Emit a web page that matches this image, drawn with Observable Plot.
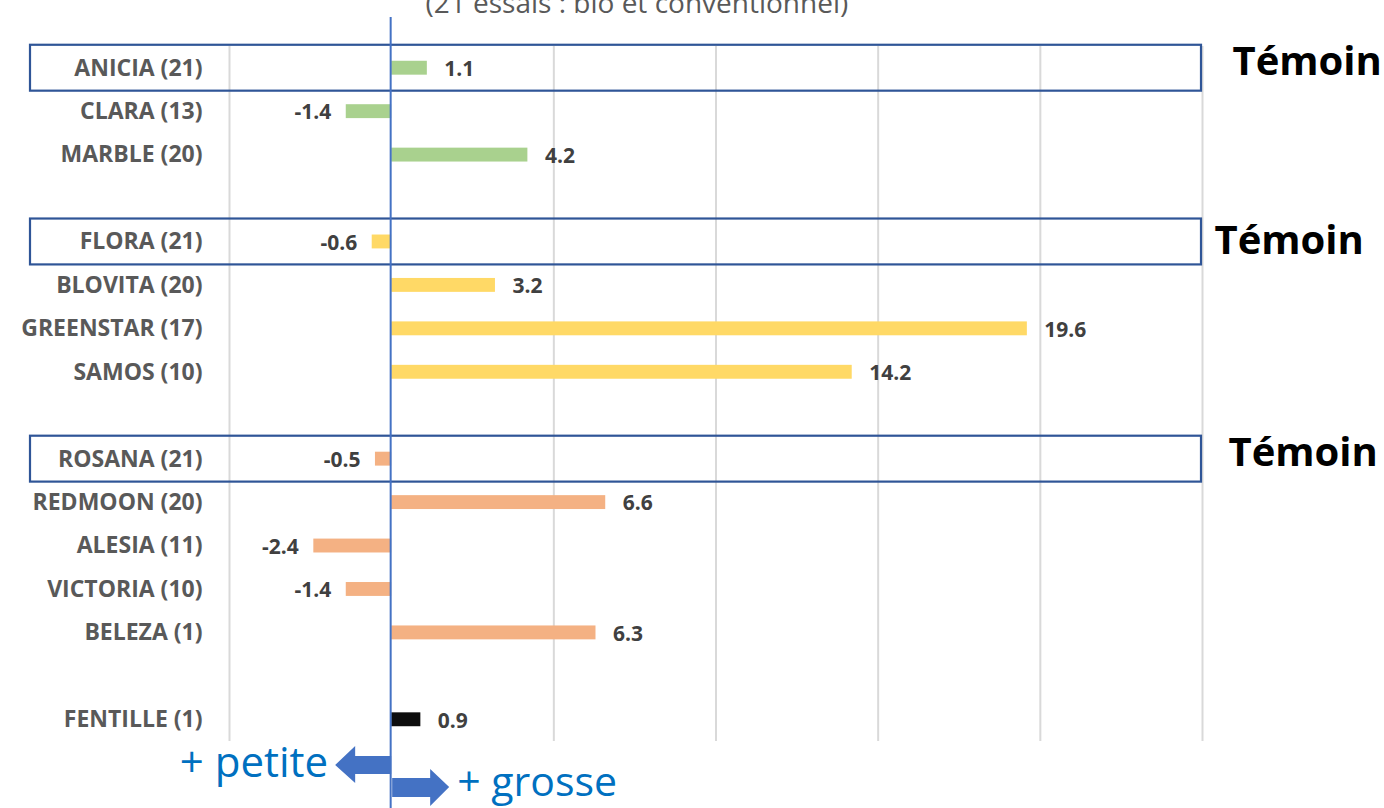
<!DOCTYPE html>
<html>
<head>
<meta charset="utf-8">
<script src="https://cdn.jsdelivr.net/npm/d3@7"></script>
<script src="https://cdn.jsdelivr.net/npm/@observablehq/plot@0.6"></script>
<style>
  html, body { margin: 0; padding: 0; background: #fff; }
  #chart { position: relative; width: 1384px; height: 808px; overflow: hidden; }
</style>
</head>
<body>
<div id="chart"></div>
<script>
// ---- data ----
const varieties = ["ANICIA (21)", "CLARA (13)", "MARBLE (20)",
  "FLORA (21)", "BLOVITA (20)", "GREENSTAR (17)", "SAMOS (10)",
  "ROSANA (21)", "REDMOON (20)", "ALESIA (11)", "VICTORIA (10)", "BELEZA (1)",
  "FENTILLE (1)"];
const values = [1.1, -1.4, 4.2, -0.6, 3.2, 19.6, 14.2, -0.5, 6.6, -2.4, -1.4, 6.3, 0.9];
const groups = ["vert", "vert", "vert", "jaune", "jaune", "jaune", "jaune",
  "orange", "orange", "orange", "orange", "orange", "noir"];
const temoins = ["ANICIA (21)", "FLORA (21)", "ROSANA (21)"];
const temoinLabel = "Témoin";
const xTicks = [-5, 0, 5, 10, 15, 20, 25];
const groupColors = {vert: "#A9D18E", jaune: "#FFD966", orange: "#F4B183", noir: "#0D0D0D"};
const title = "(21 essais : bio et conventionnel)";

const data = varieties.map((v, i) => ({variety: v, value: values[i], group: groups[i]}));

// y domain: varieties with a blank slot between groups
const yDomain = [];
data.forEach((d, i) => {
  if (i > 0 && groups[i] !== groups[i - 1]) yDomain.push("_" + i);
  yDomain.push(d.variety);
});

const font = "'Open Sans', sans-serif";

const plot = Plot.plot({
  width: 1384,
  height: 808,
  marginLeft: 229,
  marginRight: 182,
  marginTop: 46,
  marginBottom: 67,
  style: {fontFamily: font, background: "white"},
  x: {domain: [xTicks[0], xTicks[xTicks.length - 1]], axis: null},
  y: {domain: yDomain, axis: null, paddingInner: 0.68, paddingOuter: 0.34, round: false},
  color: {domain: Object.keys(groupColors), range: Object.values(groupColors)},
  marks: [
    // grid
    Plot.ruleX(xTicks.filter(t => t !== 0), {stroke: "#D9D9D9", strokeWidth: 2}),
    // bars
    Plot.barX(data, {y: "variety", x: "value", fill: "group"}),
    // témoin boxes
    Plot.barX(temoins, {y: d => d, x1: xTicks[0], x2: xTicks[xTicks.length - 1],
      fill: "none", stroke: "#2F5597", strokeWidth: 2.2,
      insetLeft: -199, insetRight: 1, insetTop: -16, insetBottom: -16}),
    // zero line (extends beyond frame)
    Plot.ruleX([0], {stroke: "#4472C4", strokeWidth: 2, dx: -1, insetTop: -29, insetBottom: -70}),
    // y labels
    Plot.axisY({tickSize: 0, tickPadding: 27, fontSize: 23, fontWeight: "bold", label: null,
      fill: "#595959", tickFormat: d => d.startsWith("_") ? "" : d}),
    // value labels
    Plot.text(data.filter(d => d.value >= 0), {y: "variety", x: "value", text: d => d.value.toFixed(1),
      textAnchor: "start", dx: 17, dy: 1, fontSize: 21, fontWeight: "bold", fill: "#404040"}),
    Plot.text(data.filter(d => d.value < 0), {y: "variety", x: "value", text: d => d.value.toFixed(1),
      textAnchor: "end", dx: -15, dy: 1, fontSize: 21, fontWeight: "bold", fill: "#404040"}),
    // Témoin labels
    Plot.text([temoins[0]], {y: d => d, frameAnchor: "right", text: () => temoinLabel, textAnchor: "start",
      dx: 30, dy: -6, fontSize: 40, fontWeight: "bold", fill: "#000"}),
    Plot.text([temoins[1]], {y: d => d, frameAnchor: "right", text: () => temoinLabel, textAnchor: "start",
      dx: 12, dy: -1, fontSize: 40, fontWeight: "bold", fill: "#000"}),
    Plot.text([temoins[2]], {y: d => d, frameAnchor: "right", text: () => temoinLabel, textAnchor: "start",
      dx: 26, dy: -6, fontSize: 40, fontWeight: "bold", fill: "#000"}),
    // partially visible title
    Plot.text([title], {frameAnchor: "top-left", text: d => d, textAnchor: "start", lineAnchor: "bottom",
      dx: 196, dy: -34, fontSize: 28, fill: "#595959"})
  ]
});

document.getElementById("chart").appendChild(plot);

// block arrows annotation
const svg = d3.select(plot);
const x0 = plot.scale("x").apply(0);
const blue = "#4472C4";
svg.append("path")
  .attr("d", `M${x0},756 L${x0 - 36},756 L${x0 - 36},746 L${x0 - 56},765 L${x0 - 36},783 L${x0 - 36},774 L${x0},774 Z`)
  .attr("fill", blue);
svg.append("path")
  .attr("d", `M${x0 + 1},778 L${x0 + 39},778 L${x0 + 39},769 L${x0 + 58},787 L${x0 + 39},806 L${x0 + 39},797 L${x0 + 1},797 Z`)
  .attr("fill", blue);
svg.append("text").attr("x", x0 - 63).attr("y", 777).attr("text-anchor", "end")
  .attr("font-family", font).attr("font-size", 42).attr("fill", "#0070C0").text("+ petite");
svg.append("text").attr("x", x0 + 66).attr("y", 796).attr("text-anchor", "start")
  .attr("font-family", font).attr("font-size", 41).attr("fill", "#0070C0").text("+ grosse");
</script>
</body>
</html>
